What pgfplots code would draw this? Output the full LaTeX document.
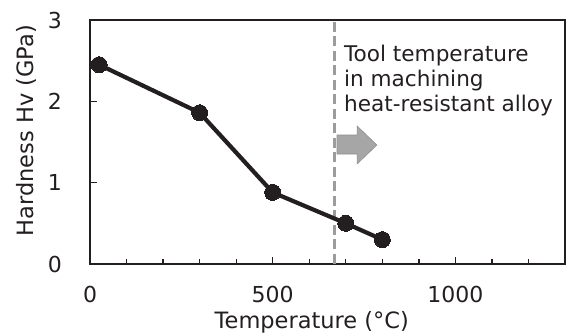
\documentclass[border=0pt]{standalone}
\usepackage{pgfplots}
\pgfplotsset{compat=1.18}
\usepackage{fontspec}
\setmainfont{DejaVu Sans}
\definecolor{ink}{HTML}{231F20}
\definecolor{dashgray}{HTML}{9C9C9C}
\definecolor{arrowfill}{HTML}{A6A6A6}
\definecolor{arrowedge}{HTML}{8E8E8E}
\begin{document}
\begin{tikzpicture}
\begin{axis}[
  name=ax,
  scale only axis,
  width=475pt, height=244pt,
  xmin=0, xmax=1300, ymin=0, ymax=3,
  xtick={0,500,1000},
  minor xtick={100,200,300,400,600,700,800,900,1100,1200},
  ytick={0,1,2,3},
  tick align=inside,
  major tick length=7pt,
  minor tick length=5pt,
  xtick pos=bottom, ytick pos=left,
  axis line style={ink, line width=1.5pt},
  every tick/.style={ink, line width=1.3pt},
  every minor tick/.style={ink, line width=1.3pt},
  /pgf/number format/assume math mode=true,
  /pgf/number format/1000 sep={},
  tick label style={font=\fontsize{22}{26}\selectfont, text=ink},
  yticklabel style={inner sep=0pt, xshift=-28pt},
  xticklabel style={inner sep=0pt, yshift=-22pt},
  label style={font=\fontsize{22.5}{26}\selectfont, text=ink},
  xlabel={Temperature (°C)},
  ylabel={Hardness Hv (GPa)},
  xlabel style={at={(axis description cs:0.467,-0.2377)}, anchor=center},
  ylabel style={at={(axis description cs:-0.133,0.546)}, anchor=center},
  clip=false,
]
% threshold line
\addplot[dashgray, line width=3pt, dash pattern=on 10pt off 4.5pt] coordinates {(670,0) (670,3)};
% arrow
\filldraw[fill=arrowfill, draw=arrowedge, line width=0.6pt]
  (axis cs:676,1.352) -- (axis cs:731,1.352) -- (axis cs:731,1.23) -- (axis cs:785,1.463)
  -- (axis cs:731,1.697) -- (axis cs:731,1.586) -- (axis cs:676,1.586) -- cycle;
% data
\addplot[ink, line width=4.2pt, mark=*, mark size=8pt, mark options={fill=ink, draw=ink, line width=0pt}]
  coordinates {(25,2.45) (300,1.86) (500,0.88) (700,0.50) (800,0.30)};
\node[anchor=north west, inner sep=0pt, align=left, text=ink,
      font=\fontsize{21.6}{25}\selectfont]
  at (axis cs:695,2.69) {Tool temperature\\in machining\\heat-resistant alloy};
\end{axis}
\pgfresetboundingbox
\path ([xshift=-90pt,yshift=-69pt]ax.south west) rectangle ([xshift=2pt,yshift=20pt]ax.north east);
\end{tikzpicture}
\end{document}
